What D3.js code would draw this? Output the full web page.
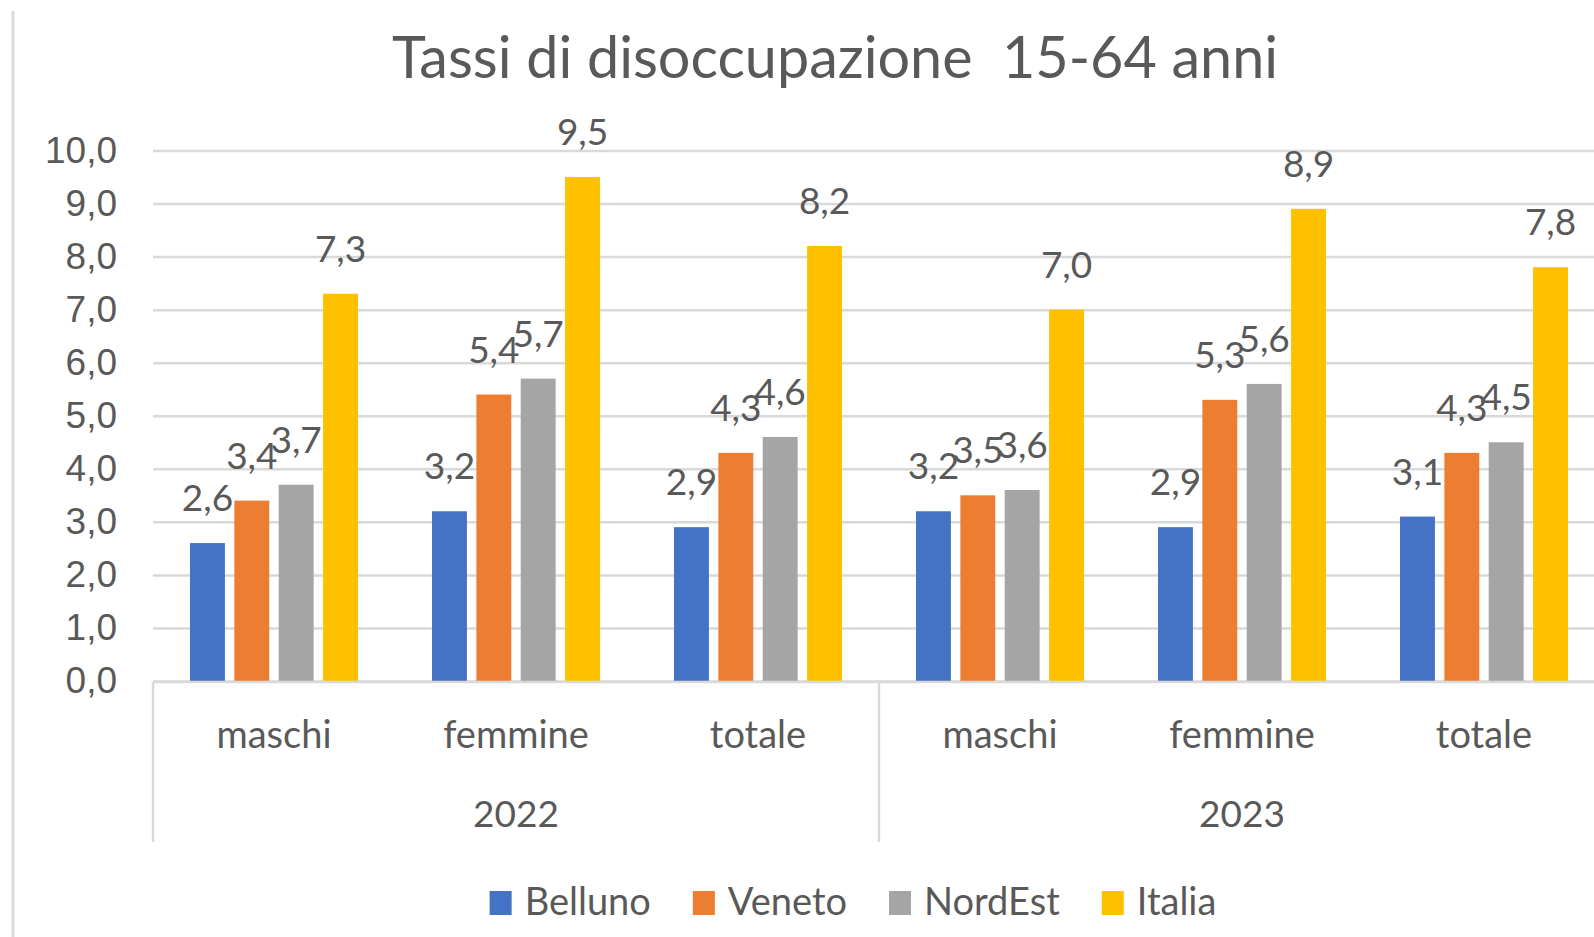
<!DOCTYPE html>
<html>
<head>
<meta charset="utf-8">
<script src="https://cdn.jsdelivr.net/npm/d3@7"></script>
<style>
    body { margin: 0; background: #fff; }
    svg { display: block; font-family: Lato, "Open Sans", sans-serif; }
</style>
</head>
<body>
<div id="chart"></div>
<script>
// ---------------------------- data ----------------------------
const years = ["2022", "2023"];
const groups = ["maschi", "femmine", "totale"];
const series = ["Belluno", "Veneto", "NordEst", "Italia"];
const colours = ["#4472C4", "#ED7D31", "#A5A5A5", "#FFC000"];
const belluno = [2.6, 3.2, 2.9, 3.2, 2.9, 3.1];
const veneto = [3.4, 5.4, 4.3, 3.5, 5.3, 4.3];
const nordEst = [3.7, 5.7, 4.6, 3.6, 5.6, 4.5];
const italia = [7.3, 9.5, 8.2, 7.0, 8.9, 7.8];
const yTicks = [0, 1, 2, 3, 4, 5, 6, 7, 8, 9, 10];

const TEXT_COLOR = "#595959";
const GRID_COLOR = "#d9d9d9";
const WIDTH = 1594;
const HEIGHT = 937;

const categories = years.flatMap(y => groups.map(g => ({year: y, group: g})));
const seriesValues = [belluno, veneto, nordEst, italia];
const rows = categories.map((c, i) => ({
    ...c,
    idx: i,
    values: series.map((s, j) => ({name: s, value: seriesValues[j][i], colour: colours[j]}))
}));

const fmt = d => d3.format(".1f")(d).replace(".", ",");

// ---------------------------- svg ----------------------------
const svg = d3.select("#chart")
    .append("svg")
    .attr("width", WIDTH)
    .attr("height", HEIGHT);

// chart area left border
svg.append("line")
    .attr("x1", 13).attr("x2", 13)
    .attr("y1", 11).attr("y2", HEIGHT)
    .attr("stroke", GRID_COLOR)
    .attr("stroke-width", 3);

// ---------------------------- scales ----------------------------
const plotLeft = 153;
const bandW = 242;
const x0 = d3.scaleBand()
    .domain(rows.map(d => d.idx))
    .range([plotLeft, plotLeft + bandW * rows.length]);

const x1 = d3.scaleBand()
    .domain(series)
    .range([37, bandW - 37])
    .paddingInner(0.213);

const y = d3.scaleLinear()
    .domain([0, 10])
    .range([681, 150.5]);

// ---------------------------- y axis + grid ----------------------------
const yAxis = svg.append("g")
    .attr("transform", `translate(${plotLeft},0)`)
    .call(d3.axisLeft(y)
        .tickValues(yTicks)
        .tickFormat(fmt)
        .tickSize(-(WIDTH - plotLeft))
        .tickPadding(36));

yAxis.select(".domain").remove();
yAxis.selectAll(".tick line")
    .attr("stroke", GRID_COLOR)
    .attr("stroke-width", 2.5);
yAxis.selectAll(".tick text")
    .attr("fill", TEXT_COLOR)
    .style("font-size", "37px");

// ---------------------------- bars ----------------------------
const groupG = svg.append("g")
    .selectAll("g")
    .data(rows)
    .enter()
    .append("g")
    .attr("transform", d => `translate(${x0(d.idx)},0)`);

groupG.selectAll("rect")
    .data(d => d.values)
    .enter()
    .append("rect")
    .attr("x", d => x1(d.name))
    .attr("y", d => y(d.value))
    .attr("width", x1.bandwidth())
    .attr("height", d => y(0) - y(d.value))
    .attr("fill", d => d.colour);

// data labels sit centred above each bar (they overlap in the original too)
groupG.selectAll("text.label")
    .data(d => d.values)
    .enter()
    .append("text")
    .attr("class", "label")
    .attr("x", d => x1(d.name) + x1.bandwidth() / 2)
    .attr("y", d => y(d.value) - 32)
    .attr("text-anchor", "middle")
    .attr("fill", TEXT_COLOR)
    .style("font-size", "37px")
    .text(d => fmt(d.value));

// ---------------------------- x axis (two levels) ----------------------------
const axisY = 682;
const axisBottom = 842;
svg.append("line")
    .attr("x1", plotLeft).attr("x2", WIDTH)
    .attr("y1", axisY).attr("y2", axisY)
    .attr("stroke", GRID_COLOR)
    .attr("stroke-width", 2.5);

years.forEach((yr, i) => {
    const start = x0(i * groups.length);
    const end = start + bandW * groups.length;
    svg.append("line")
        .attr("x1", start).attr("x2", start)
        .attr("y1", axisY).attr("y2", axisBottom)
        .attr("stroke", GRID_COLOR)
        .attr("stroke-width", 2.5);
    svg.append("text")
        .attr("x", (start + end) / 2)
        .attr("y", 827)
        .attr("text-anchor", "middle")
        .attr("fill", TEXT_COLOR)
        .style("font-size", "37px")
        .text(yr);
});

svg.append("g")
    .selectAll("text")
    .data(rows)
    .enter()
    .append("text")
    .attr("x", d => x0(d.idx) + bandW / 2)
    .attr("y", 748)
    .attr("text-anchor", "middle")
    .attr("fill", TEXT_COLOR)
    .style("font-size", "38px")
    .text(d => d.group);

// ---------------------------- title ----------------------------
svg.append("text")
    .attr("x", 835)
    .attr("y", 78)
    .attr("text-anchor", "middle")
    .attr("fill", TEXT_COLOR)
    .style("font-size", "57.5px")
    .style("white-space", "pre")
    .text("Tassi di disoccupazione  15-64 anni");

// ---------------------------- legend ----------------------------
const legend = svg.append("g");
const items = legend.selectAll("g")
    .data(series)
    .enter()
    .append("g");

items.append("rect")
    .attr("width", 22)
    .attr("height", 24)
    .attr("y", 891)
    .attr("fill", (d, i) => colours[i]);

items.append("text")
    .attr("x", 35)
    .attr("y", 915)
    .attr("fill", TEXT_COLOR)
    .style("font-size", "38px")
    .text(d => d);

let cursor = 0;
items.each(function () {
    const w = d3.select(this).select("text").node().getComputedTextLength();
    d3.select(this).attr("transform", `translate(${cursor},0)`);
    cursor += 35 + w + 42;
});
const legendWidth = cursor - 42;
legend.attr("transform", `translate(${853 - legendWidth / 2},0)`);
</script>
</body>
</html>
